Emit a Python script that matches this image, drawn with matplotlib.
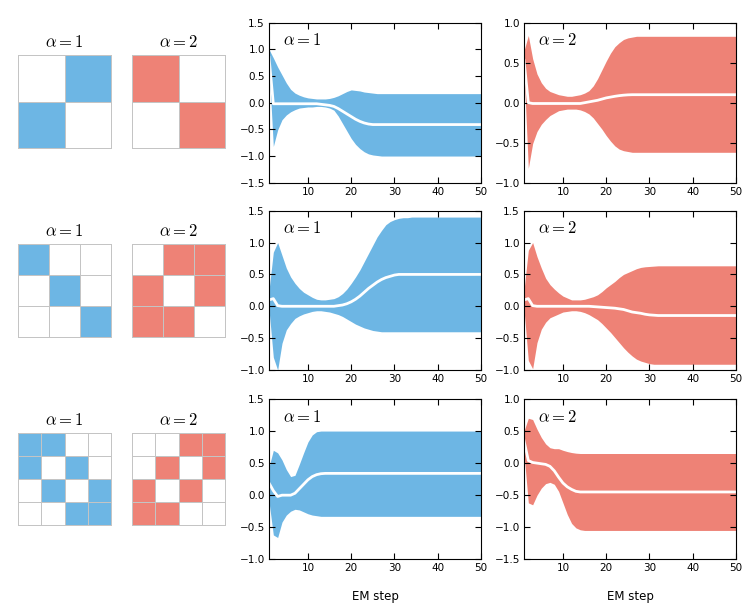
import numpy as np
import matplotlib
matplotlib.use('Agg')
import matplotlib.pyplot as plt
from matplotlib.colors import ListedColormap

plt.rcParams['mathtext.fontset'] = 'cm'
plt.rcParams['xtick.direction'] = 'in'
plt.rcParams['ytick.direction'] = 'in'
plt.rcParams['xtick.top'] = True
plt.rcParams['ytick.right'] = True

BLUE = '#6db6e4'
RED = '#ee8276'

steps = np.arange(1, 51)

# --- cluster masks shown on the left (1 = filled cell) ---
mask_2_a1 = [[0, 1],
             [1, 0]]
mask_2_a2 = [[1, 0],
             [0, 1]]
mask_3_a1 = [[1, 0, 0],
             [0, 1, 0],
             [0, 0, 1]]
mask_3_a2 = [[0, 1, 1],
             [1, 0, 1],
             [1, 1, 0]]
mask_4_a1 = [[1, 1, 0, 0],
             [1, 0, 1, 0],
             [0, 1, 0, 1],
             [0, 0, 1, 1]]
mask_4_a2 = [[0, 0, 1, 1],
             [0, 1, 0, 1],
             [1, 0, 1, 0],
             [1, 1, 0, 0]]

# --- EM traces: mean and band edges, steps 1..50 ---
r1a1_mean = [0.85, -0.02, -0.02, -0.02, -0.02, -0.02, -0.02, -0.02, -0.02, -0.02,
             -0.02, -0.02, -0.03, -0.04, -0.05, -0.07, -0.11, -0.16, -0.21, -0.26,
             -0.31, -0.35, -0.38, -0.40, -0.41, -0.41, -0.41, -0.41, -0.41, -0.41,
             -0.41, -0.41, -0.41, -0.41, -0.41, -0.41, -0.41, -0.41, -0.41, -0.41,
             -0.41, -0.41, -0.41, -0.41, -0.41, -0.41, -0.41, -0.41, -0.41, -0.41]
r1a1_upper = [1.00, 0.84, 0.67, 0.52, 0.37, 0.25, 0.18, 0.14, 0.11, 0.09,
              0.08, 0.07, 0.07, 0.07, 0.08, 0.10, 0.13, 0.17, 0.21, 0.24,
              0.23, 0.22, 0.20, 0.19, 0.18, 0.17, 0.17, 0.17, 0.17, 0.17,
              0.17, 0.17, 0.17, 0.17, 0.17, 0.17, 0.17, 0.17, 0.17, 0.17,
              0.17, 0.17, 0.17, 0.17, 0.17, 0.17, 0.17, 0.17, 0.17, 0.17]
r1a1_lower = [0.70, -0.82, -0.51, -0.32, -0.23, -0.17, -0.13, -0.10, -0.09, -0.08,
              -0.08, -0.07, -0.07, -0.08, -0.10, -0.14, -0.25, -0.39, -0.53, -0.67,
              -0.78, -0.86, -0.92, -0.96, -0.98, -0.99, -1.00, -1.00, -1.00, -1.00,
              -1.00, -1.00, -1.00, -1.00, -1.00, -1.00, -1.00, -1.00, -1.00, -1.00,
              -1.00, -1.00, -1.00, -1.00, -1.00, -1.00, -1.00, -1.00, -1.00, -1.00]

r1a2_mean = [0.53, 0.00, -0.01, -0.01, -0.01, -0.01, -0.01, -0.01, -0.01, -0.01,
             -0.01, -0.01, -0.01, -0.01, 0.00, 0.01, 0.02, 0.03, 0.045, 0.06,
             0.07, 0.08, 0.088, 0.094, 0.098, 0.10, 0.10, 0.10, 0.10, 0.10,
             0.10, 0.10, 0.10, 0.10, 0.10, 0.10, 0.10, 0.10, 0.10, 0.10,
             0.10, 0.10, 0.10, 0.10, 0.10, 0.10, 0.10, 0.10, 0.10, 0.10]
r1a2_upper = [0.65, 0.84, 0.55, 0.36, 0.25, 0.18, 0.14, 0.12, 0.10, 0.09,
              0.08, 0.08, 0.09, 0.10, 0.12, 0.15, 0.21, 0.30, 0.41, 0.52,
              0.62, 0.70, 0.75, 0.79, 0.81, 0.82, 0.83, 0.83, 0.83, 0.83,
              0.83, 0.83, 0.83, 0.83, 0.83, 0.83, 0.83, 0.83, 0.83, 0.83,
              0.83, 0.83, 0.83, 0.83, 0.83, 0.83, 0.83, 0.83, 0.83, 0.83]
r1a2_lower = [0.40, -0.82, -0.51, -0.36, -0.27, -0.21, -0.16, -0.13, -0.10, -0.09,
              -0.08, -0.08, -0.08, -0.09, -0.11, -0.14, -0.19, -0.26, -0.33, -0.41,
              -0.48, -0.54, -0.58, -0.60, -0.61, -0.62, -0.62, -0.62, -0.62, -0.62,
              -0.62, -0.62, -0.62, -0.62, -0.62, -0.62, -0.62, -0.62, -0.62, -0.62,
              -0.62, -0.62, -0.62, -0.62, -0.62, -0.62, -0.62, -0.62, -0.62, -0.62]

r2a1_mean = [0.10, 0.12, 0.01, 0.00, 0.00, 0.00, 0.00, 0.00, 0.00, 0.00,
             0.00, 0.00, 0.00, 0.00, 0.00, 0.00, 0.01, 0.02, 0.04, 0.07,
             0.11, 0.16, 0.22, 0.28, 0.33, 0.38, 0.42, 0.45, 0.47, 0.49,
             0.50, 0.50, 0.50, 0.50, 0.50, 0.50, 0.50, 0.50, 0.50, 0.50,
             0.50, 0.50, 0.50, 0.50, 0.50, 0.50, 0.50, 0.50, 0.50, 0.50]
r2a1_upper = [0.25, 0.85, 1.00, 0.80, 0.60, 0.46, 0.36, 0.28, 0.22, 0.18,
              0.14, 0.11, 0.10, 0.10, 0.11, 0.12, 0.15, 0.20, 0.27, 0.36,
              0.46, 0.57, 0.70, 0.83, 0.96, 1.09, 1.19, 1.28, 1.33, 1.36,
              1.38, 1.39, 1.39, 1.40, 1.40, 1.40, 1.40, 1.40, 1.40, 1.40,
              1.40, 1.40, 1.40, 1.40, 1.40, 1.40, 1.40, 1.40, 1.40, 1.40]
r2a1_lower = [-0.05, -0.80, -1.00, -0.58, -0.37, -0.27, -0.19, -0.15, -0.12, -0.10,
              -0.08, -0.07, -0.07, -0.08, -0.09, -0.11, -0.13, -0.16, -0.20, -0.24,
              -0.28, -0.31, -0.34, -0.36, -0.38, -0.39, -0.40, -0.40, -0.40, -0.40,
              -0.40, -0.40, -0.40, -0.40, -0.40, -0.40, -0.40, -0.40, -0.40, -0.40,
              -0.40, -0.40, -0.40, -0.40, -0.40, -0.40, -0.40, -0.40, -0.40, -0.40]

r2a2_mean = [0.10, 0.12, 0.01, 0.00, 0.00, 0.00, 0.00, 0.00, 0.00, 0.00,
             0.00, 0.00, 0.00, 0.00, 0.00, 0.00, -0.005, -0.01, -0.015, -0.02,
             -0.025, -0.03, -0.04, -0.05, -0.07, -0.09, -0.10, -0.11, -0.125, -0.135,
             -0.14, -0.145, -0.145, -0.145, -0.145, -0.145, -0.145, -0.145, -0.145, -0.145,
             -0.145, -0.145, -0.145, -0.145, -0.145, -0.145, -0.145, -0.145, -0.145, -0.145]
r2a2_upper = [0.25, 0.88, 1.00, 0.78, 0.60, 0.44, 0.34, 0.27, 0.21, 0.16,
              0.13, 0.10, 0.10, 0.10, 0.11, 0.13, 0.15, 0.18, 0.23, 0.29,
              0.34, 0.39, 0.45, 0.50, 0.53, 0.56, 0.59, 0.61, 0.62, 0.625,
              0.63, 0.635, 0.635, 0.635, 0.635, 0.635, 0.635, 0.635, 0.635, 0.635,
              0.635, 0.635, 0.635, 0.635, 0.635, 0.635, 0.635, 0.635, 0.635, 0.635]
r2a2_lower = [-0.05, -0.85, -0.98, -0.57, -0.36, -0.25, -0.18, -0.15, -0.12, -0.09,
              -0.08, -0.07, -0.07, -0.08, -0.10, -0.13, -0.17, -0.21, -0.27, -0.34,
              -0.41, -0.49, -0.57, -0.65, -0.72, -0.78, -0.83, -0.86, -0.88, -0.90,
              -0.91, -0.91, -0.91, -0.91, -0.91, -0.91, -0.91, -0.91, -0.91, -0.91,
              -0.91, -0.91, -0.91, -0.91, -0.91, -0.91, -0.91, -0.91, -0.91, -0.91]

r3a1_mean = [0.19, 0.07, -0.02, 0.00, 0.00, 0.00, 0.03, 0.10, 0.17, 0.24,
             0.29, 0.32, 0.335, 0.34, 0.34, 0.34, 0.34, 0.34, 0.34, 0.34,
             0.34, 0.34, 0.34, 0.34, 0.34, 0.34, 0.34, 0.34, 0.34, 0.34,
             0.34, 0.34, 0.34, 0.34, 0.34, 0.34, 0.34, 0.34, 0.34, 0.34,
             0.34, 0.34, 0.34, 0.34, 0.34, 0.34, 0.34, 0.34, 0.34, 0.34]
r3a1_upper = [0.44, 0.70, 0.66, 0.55, 0.40, 0.29, 0.31, 0.48, 0.66, 0.83,
              0.94, 0.99, 1.00, 1.00, 1.00, 1.00, 1.00, 1.00, 1.00, 1.00,
              1.00, 1.00, 1.00, 1.00, 1.00, 1.00, 1.00, 1.00, 1.00, 1.00,
              1.00, 1.00, 1.00, 1.00, 1.00, 1.00, 1.00, 1.00, 1.00, 1.00,
              1.00, 1.00, 1.00, 1.00, 1.00, 1.00, 1.00, 1.00, 1.00, 1.00]
r3a1_lower = [-0.10, -0.62, -0.66, -0.42, -0.31, -0.25, -0.22, -0.23, -0.26, -0.29,
              -0.31, -0.32, -0.33, -0.33, -0.33, -0.33, -0.33, -0.33, -0.33, -0.33,
              -0.33, -0.33, -0.33, -0.33, -0.33, -0.33, -0.33, -0.33, -0.33, -0.33,
              -0.33, -0.33, -0.33, -0.33, -0.33, -0.33, -0.33, -0.33, -0.33, -0.33,
              -0.33, -0.33, -0.33, -0.33, -0.33, -0.33, -0.33, -0.33, -0.33, -0.33]

r3a2_mean = [0.35, 0.04, 0.01, 0.00, -0.01, -0.02, -0.05, -0.12, -0.22, -0.31,
             -0.37, -0.41, -0.44, -0.45, -0.45, -0.45, -0.45, -0.45, -0.45, -0.45,
             -0.45, -0.45, -0.45, -0.45, -0.45, -0.45, -0.45, -0.45, -0.45, -0.45,
             -0.45, -0.45, -0.45, -0.45, -0.45, -0.45, -0.45, -0.45, -0.45, -0.45,
             -0.45, -0.45, -0.45, -0.45, -0.45, -0.45, -0.45, -0.45, -0.45, -0.45]
r3a2_upper = [0.50, 0.70, 0.68, 0.53, 0.40, 0.30, 0.24, 0.225, 0.225, 0.20,
              0.18, 0.165, 0.155, 0.15, 0.15, 0.15, 0.15, 0.15, 0.15, 0.15,
              0.15, 0.15, 0.15, 0.15, 0.15, 0.15, 0.15, 0.15, 0.15, 0.15,
              0.15, 0.15, 0.15, 0.15, 0.15, 0.15, 0.15, 0.15, 0.15, 0.15,
              0.15, 0.15, 0.15, 0.15, 0.15, 0.15, 0.15, 0.15, 0.15, 0.15]
r3a2_lower = [0.15, -0.62, -0.65, -0.50, -0.39, -0.32, -0.30, -0.33, -0.44, -0.62,
              -0.80, -0.94, -1.01, -1.04, -1.05, -1.05, -1.05, -1.05, -1.05, -1.05,
              -1.05, -1.05, -1.05, -1.05, -1.05, -1.05, -1.05, -1.05, -1.05, -1.05,
              -1.05, -1.05, -1.05, -1.05, -1.05, -1.05, -1.05, -1.05, -1.05, -1.05,
              -1.05, -1.05, -1.05, -1.05, -1.05, -1.05, -1.05, -1.05, -1.05, -1.05]

masks = [(mask_2_a1, mask_2_a2), (mask_3_a1, mask_3_a2), (mask_4_a1, mask_4_a2)]
traces = [
    [(r1a1_mean, r1a1_lower, r1a1_upper), (r1a2_mean, r1a2_lower, r1a2_upper)],
    [(r2a1_mean, r2a1_lower, r2a1_upper), (r2a2_mean, r2a2_lower, r2a2_upper)],
    [(r3a1_mean, r3a1_lower, r3a1_upper), (r3a2_mean, r3a2_lower, r3a2_upper)],
]
ylims = [[(-1.5, 1.5), (-1.0, 1.0)],
         [(-1.0, 1.5), (-1.0, 1.5)],
         [(-1.0, 1.5), (-1.5, 1.0)]]
colors = [BLUE, RED]
labels = [r'$\alpha = 1$', r'$\alpha = 2$']

W, H = 748.0, 613.0
fig = plt.figure(figsize=(W / 100, H / 100), dpi=100)

# pixel boxes (top, bottom) of each row of line plots, and of the mask squares
row_px = [(22.7, 182.7), (210.7, 370.0), (399.0, 559.3)]
grid_px = [(55, 148), (244, 337), (433, 525)]
grid_left = [18, 132]
line_left = [269, 524]

for r in range(3):
    # mask squares
    gt, gb = grid_px[r]
    for c in range(2):
        gax = fig.add_axes([grid_left[c] / W, 1 - gb / H, 93 / W, (gb - gt) / H])
        m = np.array(masks[r][c])
        mesh = gax.pcolormesh(m, cmap=ListedColormap(['white', colors[c]]), vmin=0, vmax=1,
                              edgecolors='#c4c4c4', linewidth=0.5)
        mesh.set_clip_on(False)
        gax.set_xlim(0, m.shape[1])
        gax.set_ylim(m.shape[0], 0)
        gax.set_axis_off()
        gax.set_title(labels[c], fontsize=12, pad=6)

    # EM traces
    lt, lb = row_px[r]
    for c in range(2):
        ax = fig.add_axes([line_left[c] / W, 1 - lb / H, 212 / W, (lb - lt) / H])
        mean, lower, upper = traces[r][c]
        ax.fill_between(steps, lower, upper, color=colors[c], linewidth=0)
        ax.plot(steps, mean, color='white', linewidth=2)
        ax.set_xlim(1, 50)
        ax.set_ylim(*ylims[r][c])
        ax.set_xticks([10, 20, 30, 40, 50])
        ax.set_yticks(np.arange(ylims[r][c][0], ylims[r][c][1] + 0.01, 0.5))
        ax.tick_params(labelsize=7.5, length=4, width=0.8, pad=3)
        for s in ax.spines.values():
            s.set_linewidth(0.8)
        ax.text(0.065, 0.89, labels[c], transform=ax.transAxes, fontsize=12, va='center')
        if r == 2:
            ax.set_xlabel('EM step', fontsize=8.5, labelpad=12)

fig.savefig('out.png', dpi=100)
